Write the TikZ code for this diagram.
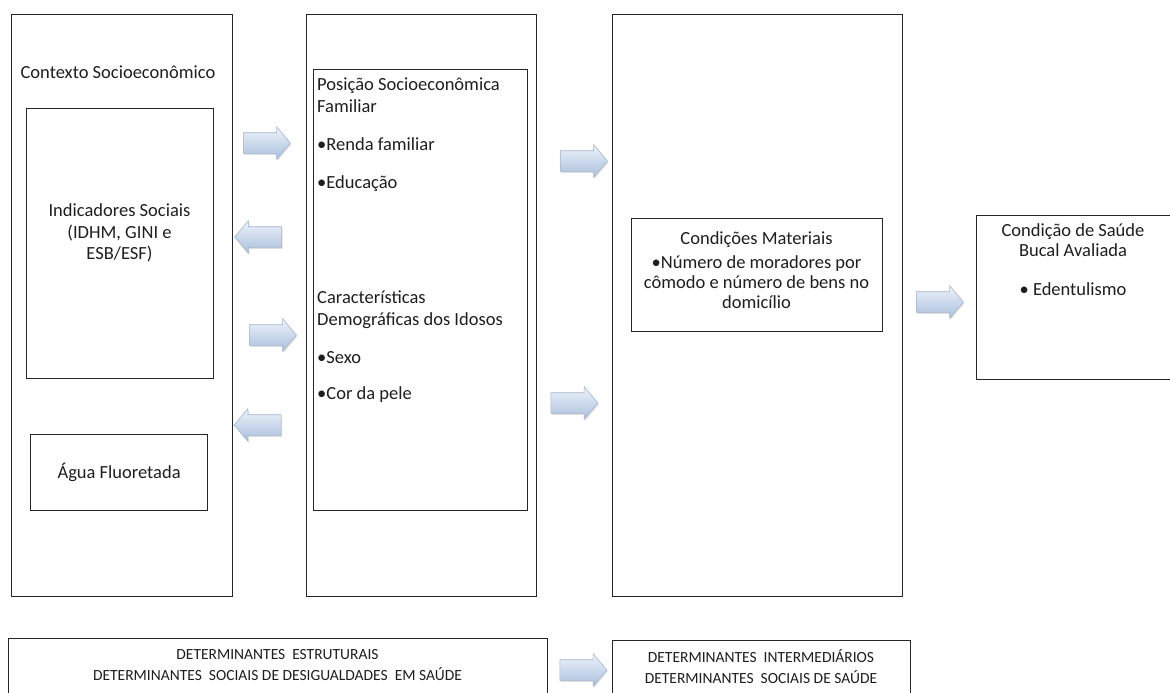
\documentclass[tikz,border=0pt]{standalone}
\usepackage{fontspec}
\setmainfont{Carlito}
\usetikzlibrary{positioning, shapes.arrows, shadows}

\definecolor{arrowtop}{HTML}{EEF3FA}
\definecolor{arrowbot}{HTML}{A9BFDD}
\definecolor{arrowline}{HTML}{A3B5CE}
\definecolor{boxline}{HTML}{262626}
\definecolor{ink}{HTML}{1E1E1E}

\begin{document}
\begin{tikzpicture}[x=1pt, y=-1pt,
    frame/.style={rectangle, draw=boxline, line width=1.2pt, inner sep=0pt, anchor=north west},
    txt/.style={font=\fontsize{18.5}{21.5}\selectfont, text=ink, inner sep=0pt, align=center},
    ltxt/.style={font=\fontsize{18.5}{21.5}\selectfont, text=ink, inner sep=0pt, align=left, anchor=north west},
    caps/.style={font=\fontsize{15.5}{21}\selectfont, text=ink, inner sep=0pt, align=center},
    blockarrow/.style={single arrow, shading=axis, top color=arrowtop, bottom color=arrowbot,
        draw=arrowline, line width=0.6pt, minimum height=47pt, inner xsep=0pt, inner ysep=10pt,
        single arrow head extend=6pt, single arrow tip angle=100,
        drop shadow={shadow xshift=1pt, shadow yshift=-1.5pt, opacity=0.25}},
    leftarrow/.style={blockarrow, shape border rotate=180}]

    \useasboundingbox (0,0) rectangle (1170,693);

    % column 1: contexto
    \node (ctx) [frame, minimum width=221pt, minimum height=582pt] at (11,14) {};
    \node (ctxlabel) [txt, anchor=base] at (118,78) {Contexto Socioeconômico};
    \node (indic) [frame, minimum width=187pt, minimum height=270pt] at (26,108) {};
    \node (indiclabel) [txt] at (119.5,233) {Indicadores Sociais\\(IDHM, GINI e\\ESB/ESF)};
    \node (agua) [frame, minimum width=177pt, minimum height=76pt] at (30,434) {};
    \node (agualabel) [txt] at (agua.center) {Água Fluoretada};

    % column 2: posicao e caracteristicas
    \node (pos) [frame, minimum width=230pt, minimum height=582pt] at (306,14) {};
    \node (posin) [frame, minimum width=214pt, minimum height=441pt] at (313,69) {};
    \node (famlabel) [ltxt] at (317,78) {Posição Socioeconômica\\Familiar\\[16.5pt]•Renda familiar\\[16.5pt]•Educação};
    \node (demlabel) [ltxt] at (317,291) {Características\\Demográficas dos Idosos\\[17pt]•Sexo\\[14.5pt]•Cor da pele};

    % column 3: condicoes materiais
    \node (mat) [frame, minimum width=290pt, minimum height=582pt] at (612,14) {};
    \node (matin) [frame, minimum width=251pt, minimum height=113pt] at (631,218) {};
    \node (matlabel) [txt, font=\fontsize{18.5}{20}\selectfont] at (756.5,270) {Condições Materiais\\[4pt]•Número de moradores por\\cômodo e número de bens no\\domicílio};

    % column 4: desfecho
    \node (saude) [frame, minimum width=197pt, minimum height=164pt] at (976,215) {};
    \node (saudelabel) [txt, anchor=north, font=\fontsize{18.5}{20}\selectfont] at (1073,223) {Condição de Saúde\\Bucal Avaliada\\[19pt]• Edentulismo};

    % legenda
    \node (estr) [frame, minimum width=539pt, minimum height=70pt] at (8,638) {};
    \node (estrlabel) [caps] at (277.5,665.5) {DETERMINANTES\ \ ESTRUTURAIS\\DETERMINANTES\ \ SOCIAIS DE DESIGUALDADES\ \ EM SAÚDE};
    \node (inter) [frame, minimum width=298pt, minimum height=70pt] at (612,640) {};
    \node (interlabel) [caps] at (761,666.5) {DETERMINANTES\ \ INTERMEDIÁRIOS\\DETERMINANTES\ \ SOCIAIS DE SAÚDE};

    % setas
    \node (toposA) [blockarrow] at (262.5,143) {};
    \node (toctxA) [leftarrow] at (262.5,237) {};
    \node (toposB) [blockarrow] at (268.5,335) {};
    \node (toctxB) [leftarrow] at (262,425) {};
    \node (tomatA) [blockarrow] at (579.5,161) {};
    \node (tomatB) [blockarrow] at (570,403) {};
    \node (tosaude) [blockarrow] at (935.5,302) {};
    \node (tointer) [blockarrow] at (579,670) {};
\end{tikzpicture}
\end{document}
